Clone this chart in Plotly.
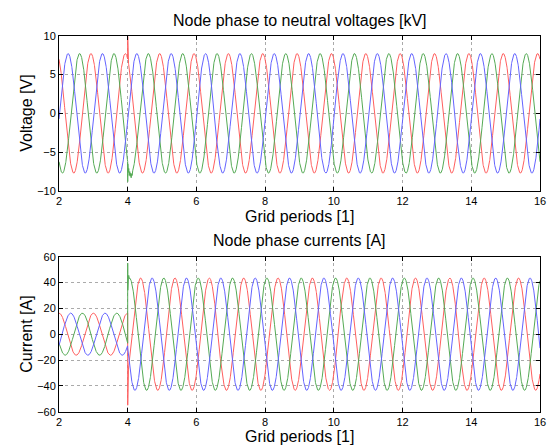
import numpy as np
import plotly.graph_objects as go

# ---------------- data ----------------
phase_names = ["L1 (red)", "L2 (green)", "L3 (blue)"]
phase_colors = ["rgb(255,95,95)", "rgb(85,170,85)", "rgb(100,100,255)"]

period_start, period_end = 2.0, 16.0
switch_period = 4.0

# Voltages [kV]: amplitude and position of positive peak inside a grid period
voltage_amplitude = [7.7, 7.7, 7.7]
voltage_peak_pos = [0.93, 0.60, 0.265]

# Currents [A]: before / after the switching event at period 4
current_amplitude_before = [16.3, 16.3, 16.3]
current_peak_pos_before = [0.00, 0.68, 0.34]
current_amplitude_after = [43.5, 43.5, 43.5]
current_peak_pos_after = [0.375, 0.05, 0.71]

# Switching transients: sample periods and values
v_red_tr_t = [3.999, 4.000, 4.002, 4.006, 4.012]
v_red_tr_v = [7.0, 9.9, 7.9, 7.4, 6.6]
v_green_tr_t = [3.999, 4.000, 4.003, 4.010, 4.020, 4.030, 4.045, 4.060, 4.075,
                4.090, 4.100, 4.115, 4.130, 4.145, 4.160]
v_green_tr_v = [-6.2, -8.8, -6.5, -7.0, -7.6, -7.1, -8.0, -7.5, -8.1,
                -7.7, -8.3, -7.8, -8.0, -7.4, -7.2]
i_red_tr_t = [3.999, 4.000, 4.001, 4.004, 4.010, 4.016, 4.022, 4.030]
i_red_tr_v = [16.3, -55.0, -35.0, -40.0, -31.0, -36.0, -27.0, -24.5]
i_green_tr_t = [3.999, 4.000, 4.001, 4.003, 4.008, 4.015, 4.022, 4.030, 4.040, 4.050]
i_green_tr_v = [-6.9, 55.0, 34.0, 46.0, 44.0, 46.5, 44.5, 45.5, 44.0, 43.0]

x_ticks = [2, 4, 6, 8, 10, 12, 14, 16]
v_ticks = [-10, -5, 0, 5, 10]
i_ticks = [-60, -40, -20, 0, 20, 40, 60]

# ---------------- build waveforms ----------------
t = np.arange(period_start, period_end + 1e-9, 0.004)


def wave(tt, amp, peak):
    return amp * np.cos(2 * np.pi * (tt - peak))


def with_transient(tt, yy, tr_t, tr_v):
    if not tr_t:
        return tt, yy
    keep = (tt < tr_t[0]) | (tt > tr_t[-1])
    tx = np.concatenate([tt[keep], np.array(tr_t)])
    ty = np.concatenate([yy[keep], np.array(tr_v)])
    order = np.argsort(tx)
    return tx[order], ty[order]


v_tr = [(v_red_tr_t, v_red_tr_v), (v_green_tr_t, v_green_tr_v), ([], [])]
i_tr = [(i_red_tr_t, i_red_tr_v), (i_green_tr_t, i_green_tr_v), ([], [])]

fig = go.Figure()

for k in range(3):
    y = wave(t, voltage_amplitude[k], voltage_peak_pos[k])
    tx, ty = with_transient(t, y, *v_tr[k])
    fig.add_trace(go.Scatter(x=tx, y=ty, mode="lines", name=phase_names[k],
                             line=dict(color=phase_colors[k], width=1),
                             xaxis="x", yaxis="y", showlegend=False))

for k in range(3):
    before = wave(t, current_amplitude_before[k], current_peak_pos_before[k])
    after = wave(t, current_amplitude_after[k], current_peak_pos_after[k])
    y = np.where(t < switch_period, before, after)
    tx, ty = with_transient(t, y, *i_tr[k])
    fig.add_trace(go.Scatter(x=tx, y=ty, mode="lines", name=phase_names[k],
                             line=dict(color=phase_colors[k], width=1),
                             xaxis="x2", yaxis="y2", showlegend=False))

W, H = 549, 448
font = "Liberation Sans, Arial, sans-serif"


def axis_common():
    return dict(showline=True, linecolor="black", linewidth=1, mirror="allticks",
                ticks="inside", ticklen=4, tickcolor="black", automargin=False,
                showgrid=True, gridcolor="rgb(170,170,170)", griddash="dot", gridwidth=1,
                zeroline=False, tickfont=dict(family=font, size=11, color="black"))


top_y = [1 - 191 / H, 1 - 35.7 / H]
bot_y = [1 - 411.7 / H, 1 - 256.7 / H]
xdom = [59 / W, 540 / W]

fig.update_layout(
    width=W, height=H, autosize=False,
    margin=dict(l=0, r=0, t=0, b=0, pad=0, autoexpand=False),
    paper_bgcolor="white", plot_bgcolor="white",
    xaxis=dict(domain=xdom, range=[period_start, period_end], tickvals=x_ticks,
               anchor="y", **axis_common()),
    yaxis=dict(domain=top_y, range=[-10, 10], tickvals=v_ticks, anchor="x", **axis_common()),
    xaxis2=dict(domain=xdom, range=[period_start, period_end], tickvals=x_ticks,
                anchor="y2", **axis_common()),
    yaxis2=dict(domain=bot_y, range=[-60, 60], tickvals=i_ticks, anchor="x2", **axis_common()),
)


def ann(text, px, py, size=16, angle=0):
    fig.add_annotation(text=text, x=px / W, y=1 - py / H, xref="paper", yref="paper",
                       showarrow=False, xanchor="center", yanchor="middle", textangle=angle,
                       font=dict(family=font, size=size, color="black"))


ann("Node phase to neutral voltages [kV]", 299.5, 20.5)
ann("Grid periods [1]", 299.5, 216.5)
ann("Voltage [V]", 26.5, 113.3, angle=-90)
ann("Node phase currents [A]", 299.5, 240.5)
ann("Grid periods [1]", 299.5, 436.5)
ann("Current [A]", 26.5, 334.2, angle=-90)

fig.write_html("out.html",
               config={"displayModeBar": False},
               post_script="document.body.style.margin='0';document.body.style.overflow='hidden';")
